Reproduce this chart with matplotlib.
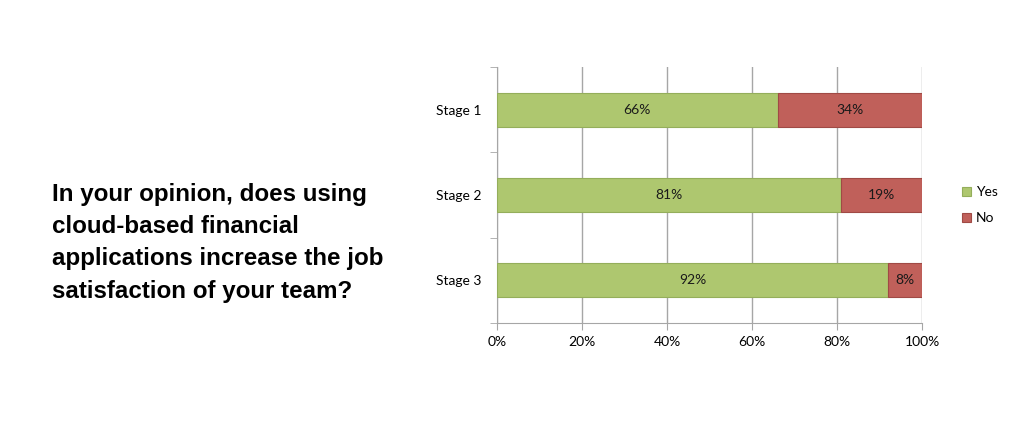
import numpy as np
import matplotlib
matplotlib.use('Agg')
import matplotlib.pyplot as plt
from matplotlib.ticker import FixedLocator, PercentFormatter

stages = ['Stage 1', 'Stage 2', 'Stage 3']
yesValues = [66, 81, 92]
noValues = [34, 19, 8]
seriesNames = ['Yes', 'No']
question = ('In your opinion, does using\ncloud-based financial\n'
            'applications increase the job\nsatisfaction of your team?')

greenColor = '#AEC76F'
redColor = '#C0605A'
gridColor = '#A6A6A6'

fig = plt.figure(figsize=(10.24, 4.25), dpi=100)
fig.text(0.051, 0.429, question, fontsize=17.4, fontweight='bold',
         family='Liberation Sans', va='center', ha='left', linespacing=1.52)

ax = fig.add_axes([0.4854, 0.24, 0.4150, 0.602])
pos = np.arange(len(stages))
yesBars = ax.barh(pos, yesValues, height=0.4, color=greenColor,
                  edgecolor='#94AE5B', linewidth=0.8, label=seriesNames[0], zorder=3)
noBars = ax.barh(pos, noValues, left=yesValues, height=0.4, color=redColor,
                 edgecolor='#A04A45', linewidth=0.8, label=seriesNames[1], zorder=3)

for bars in (yesBars, noBars):
    for rect in bars:
        w = rect.get_width()
        ax.text(rect.get_x() + w / 2, rect.get_y() + rect.get_height() / 2,
                f'{w:.0f}%', ha='center', va='center', fontsize=10,
                family='Lato', color='#1a1a1a', zorder=4)

ax.set_xlim(0, 100)
ax.set_ylim(2.5, -0.5)
ax.set_xticks(np.arange(0, 101, 20))
ax.xaxis.set_major_formatter(PercentFormatter(decimals=0))
ax.set_yticks(pos)
ax.set_yticklabels(stages)
ax.yaxis.set_minor_locator(FixedLocator([-0.5, 0.5, 1.5, 2.5]))
ax.tick_params(axis='y', which='major', length=0, pad=11)
ax.tick_params(axis='y', which='minor', length=5, color=gridColor, direction='out')
ax.tick_params(axis='x', length=5, color=gridColor, direction='out', pad=4)
for lab in ax.get_xticklabels() + ax.get_yticklabels():
    lab.set_family('Lato')
    lab.set_fontsize(10)

ax.grid(axis='x', color=gridColor, linewidth=1, zorder=0)
ax.spines['top'].set_visible(False)
ax.spines['right'].set_visible(False)
ax.spines['left'].set_color(gridColor)
ax.spines['bottom'].set_color(gridColor)

ax.legend(loc='center left', bbox_to_anchor=(1.064, 0.46), frameon=False,
          prop={'family': 'Lato', 'size': 10}, handlelength=0.7, handleheight=0.7,
          handletextpad=0.3, labelspacing=1.0)

fig.savefig('out.png', dpi=100)
